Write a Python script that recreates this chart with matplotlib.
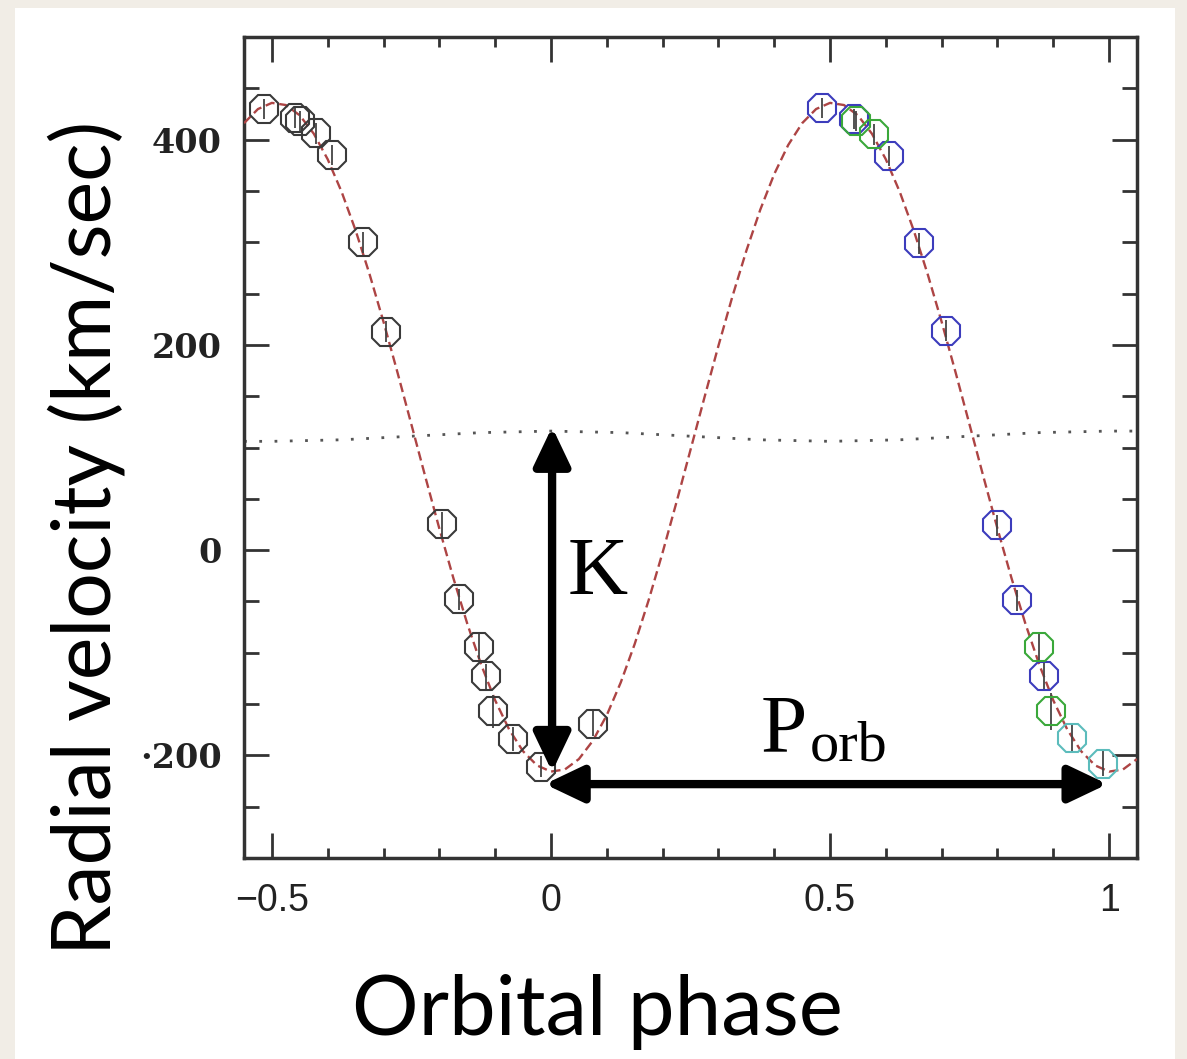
import matplotlib
matplotlib.use("Agg")
import matplotlib.pyplot as plt
from matplotlib.patches import Rectangle
from matplotlib.ticker import FixedLocator, MultipleLocator

# ---------------- data ----------------
curve_phase = [-0.55, -0.525, -0.5, -0.475, -0.45, -0.425, -0.4, -0.375, -0.35, -0.325,
               -0.3, -0.275, -0.25, -0.225, -0.2, -0.175, -0.15, -0.125, -0.1, -0.075,
               -0.05, -0.025, 0.0, 0.025, 0.05, 0.075, 0.1, 0.125, 0.15, 0.175,
               0.2, 0.225, 0.25, 0.275, 0.3, 0.325, 0.35, 0.375, 0.4, 0.425,
               0.45, 0.475, 0.5, 0.525, 0.55, 0.575, 0.6, 0.625, 0.65, 0.675,
               0.7, 0.725, 0.75, 0.775, 0.8, 0.825, 0.85, 0.875, 0.9, 0.925,
               0.95, 0.975, 1.0, 1.025, 1.05]
curve_rv = [416.0, 429.8, 435.8, 433.7, 423.6, 405.8, 380.8, 349.0, 311.5, 268.8,
            222.4, 173.1, 122.3, 71.2, 21.0, -27.0, -71.6, -111.7, -146.4, -174.7,
            -196.0, -209.8, -215.8, -213.7, -203.6, -185.8, -160.8, -129.0, -91.5, -48.8,
            -2.4, 46.9, 97.7, 148.8, 199.0, 247.0, 291.6, 331.7, 366.4, 394.7,
            416.0, 429.8, 435.8, 433.7, 423.6, 405.8, 380.8, 349.0, 311.5, 268.8,
            222.4, 173.1, 122.3, 71.2, 21.0, -27.0, -71.6, -111.7, -146.4, -174.7,
            -196.0, -209.8, -215.8, -213.7, -203.6]

gamma_phase = [-0.55, -0.5, -0.375, -0.25, -0.125, 0.0, 0.125, 0.25, 0.375, 0.5,
               0.625, 0.75, 0.875, 1.0, 1.05]
gamma_rv = [106, 106, 107.5, 111, 114.5, 116, 114.5, 111, 107.5, 106,
            107.5, 111, 114.5, 116, 116]

black_phase = [-0.514, -0.459, -0.450, -0.421, -0.392, -0.337, -0.296, -0.195,
               -0.165, -0.129, -0.116, -0.104, -0.068, -0.018, 0.075]
black_rv = [430, 421, 418, 406, 385, 300, 213, 25, -48, -94, -123, -157, -184, -211, -169]
black_err = [10, 10, 10, 10, 10, 10, 10, 12, 10, 12, 12, 16, 12, 10, 12]

blue_phase = [0.486, 0.543, 0.606, 0.659, 0.708, 0.799, 0.835, 0.884]
blue_rv = [431, 420, 384, 299, 214, 24, -49, -123]
blue_err = [10, 10, 10, 10, 10, 10, 10, 14]

green_phase = [0.547, 0.579, 0.875, 0.896]
green_rv = [418, 405, -94, -157]
green_err = [10, 10, 14, 18]

cyan_phase = [0.934, 0.989]
cyan_rv = [-183, -208]
cyan_err = [14, 12]

xticks = [-0.5, 0, 0.5, 1]
xticklabels = ["\u22120.5", "0", "0.5", "1"]
yticks = [-200, 0, 200, 400]
yticklabels = ["\u00b7200", "0", "200", "400"]

# annotation geometry (data units)
k_arrow_phase = 0.002
k_arrow_ends = (-216, 120)
p_arrow_rv = -228
p_arrow_ends = (-0.011, 0.997)

# ---------------- figure ----------------
W, H = 1187, 1059
fig = plt.figure(figsize=(W / 100, H / 100), dpi=100, facecolor="#f1ede6")
fig.patches.append(Rectangle((15 / W, 0), (1175 - 15) / W, (1059 - 8) / H,
                             transform=fig.transFigure, facecolor="white",
                             edgecolor="none", zorder=-5))

ax = fig.add_axes([244 / W, 1 - 858 / H, (1137 - 244) / W, (858 - 37) / H])
ax.set_facecolor("white")
ax.set_xlim(-0.55, 1.05)
ax.set_ylim(-300, 500)

# model curve and gamma line
ax.plot(curve_phase, curve_rv, color="#ad4444", lw=1.7, linestyle=(0, (4, 2)), zorder=3)
ax.plot(gamma_phase, gamma_rv, color="#555555", lw=2.0, linestyle=(0, (1, 4.5)), zorder=2)

# data points
def pts(ph, rv, err, col):
    ax.errorbar(ph, rv, yerr=err, fmt="none", ecolor="#444444", elinewidth=1.3,
                capsize=0, zorder=4)
    ax.plot(ph, rv, linestyle="none", marker="8", markersize=22, markerfacecolor="none",
            markeredgecolor=col, markeredgewidth=1.5, zorder=5)

pts(black_phase, black_rv, black_err, "#3a3a3a")
pts(blue_phase, blue_rv, blue_err, "#3c3cbc")
pts(green_phase, green_rv, green_err, "#3aa83a")
pts(cyan_phase, cyan_rv, cyan_err, "#5cbcbc")

# arrows
arrow_kw = dict(arrowstyle="<|-|>,head_length=1.05,head_width=0.5", mutation_scale=22,
                lw=6, color="black", shrinkA=0, shrinkB=0, joinstyle="round")
ax.annotate("", xy=(k_arrow_phase, k_arrow_ends[1]), xytext=(k_arrow_phase, k_arrow_ends[0]),
            arrowprops=arrow_kw, zorder=6)
ax.annotate("", xy=(p_arrow_ends[1], p_arrow_rv), xytext=(p_arrow_ends[0], p_arrow_rv),
            arrowprops=arrow_kw, zorder=6)

ax.text(0.030, -42.7, "K", family="Liberation Serif", fontsize=60, ha="left",
        va="baseline", zorder=7)
ax.text(0.376, -196, "P", family="Liberation Serif", fontsize=60, ha="left",
        va="baseline", zorder=7)
ax.text(0.464, -205, "orb", family="Liberation Serif", fontsize=42, ha="left",
        va="baseline", zorder=7)

# spines and ticks
for s in ax.spines.values():
    s.set_linewidth(2.5)
    s.set_color("#333333")
ax.xaxis.set_major_locator(FixedLocator(xticks))
ax.xaxis.set_minor_locator(MultipleLocator(0.1))
ax.yaxis.set_major_locator(FixedLocator(yticks))
ax.yaxis.set_minor_locator(MultipleLocator(50))
ax.set_xticklabels(xticklabels, family="Liberation Sans", fontsize=27, color="#222222")
ax.set_yticklabels(yticklabels, family="DejaVu Serif", fontsize=24, fontweight="bold",
                   color="#222222")
ax.tick_params(axis="both", which="both", direction="in", top=True, right=True,
               color="#333333", width=2)
ax.tick_params(axis="x", which="major", length=18, pad=18)
ax.tick_params(axis="x", which="minor", length=7)
ax.tick_params(axis="y", which="major", length=18, pad=16)
ax.tick_params(axis="y", which="minor", length=11)

fig.text(597 / W, 1 - 1035 / H, "Orbital phase", family="Lato", fontsize=60,
         ha="center", va="baseline", color="black")
fig.text(86 / W, 1 - 538 / H, "Radial velocity (km/sec)", family="Lato", fontsize=58,
         ha="center", va="center", rotation=90, color="black")

fig.savefig("out.png", dpi=100, facecolor=fig.get_facecolor())
